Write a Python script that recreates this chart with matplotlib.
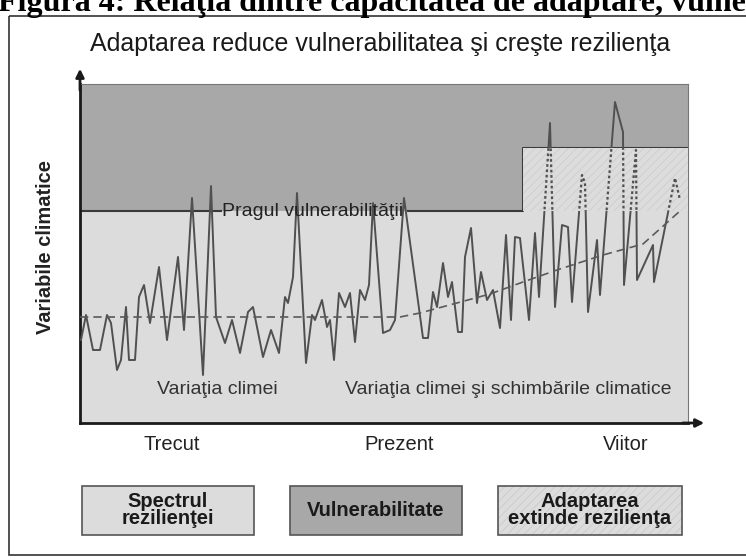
import matplotlib
matplotlib.use('Agg')
import matplotlib.pyplot as plt
from matplotlib.patches import Rectangle

# climate variability series (time units, value units)
clim_t = [1, 6, 13, 20, 27, 31, 37, 41, 46, 49, 55, 59, 64, 70, 79, 87, 98, 104,
          112, 123, 131, 136, 145, 152, 160, 168, 173, 183, 191, 199, 205, 208,
          213, 217, 226, 232, 235, 242, 247, 250, 254, 259, 265, 270, 275, 280,
          285, 289, 293, 303, 310, 315, 324, 343, 348, 353, 357, 363, 368, 372,
          378, 382, 385, 391, 397, 401, 407, 413, 420, 426, 431, 435, 440, 449,
          455, 459, 470, 475, 482, 488, 492, 502, 505, 508, 517, 520, 535, 543,
          544, 556, 557, 573, 574, 595, 600]
clim_v = [83, 108, 73, 73, 108, 100, 53, 63, 116, 63, 63, 126, 138, 100, 156, 83,
          166, 93, 225, 48, 237, 106, 80, 103, 70, 111, 116, 66, 93, 70, 126, 120,
          146, 230, 60, 108, 103, 123, 96, 103, 63, 130, 116, 130, 81, 133, 123,
          138, 220, 90, 93, 103, 225, 85, 85, 131, 116, 160, 126, 141, 91, 91,
          166, 195, 120, 151, 123, 133, 95, 188, 103, 186, 185, 103, 190, 126,
          300, 116, 198, 196, 121, 248, 240, 111, 183, 128, 321, 291, 138, 273,
          143, 178, 141, 245, 223]

# climate trend (dashed)
trend_t = [0, 320, 340, 410, 443, 477, 523, 563, 600]
trend_v = [106, 106, 110, 129, 141, 153, 168, 179, 212]

# vulnerability threshold (before / after adaptation)
thr_t = [0, 443, 443, 608]
thr_v = [212, 212, 275, 275]
x_max, y_max = 608, 339

time_labels = ['Trecut', 'Prezent', 'Viitor']
time_pos = [92, 319, 546]
box_labels = ['Spectrul\nrezilienţei', 'Vulnerabilitate', 'Adaptarea\nextinde rezilienţa']

plt.rcParams['font.family'] = ['Liberation Sans', 'DejaVu Sans']
plt.rcParams['hatch.linewidth'] = 0.6

light = '#dcdcdc'
dark = '#a8a8a8'
line_col = '#505050'

fig = plt.figure(figsize=(7.46, 5.6), dpi=100)

# background layer in pixel coordinates
bg = fig.add_axes([0, 0, 1, 1])
bg.set_xlim(0, 746)
bg.set_ylim(560, 0)
bg.axis('off')

bg.text(-2, 11, 'Figura 4: Relaţia dintre capacitatea de adaptare, vulnerabilitate şi rezilienţă',
        family=['Liberation Serif', 'DejaVu Serif'], fontweight='bold', fontsize=23,
        ha='left', va='baseline', clip_on=True)
bg.add_patch(Rectangle((9, 16), 800, 539, fill=False, ec='#333333', lw=1.2))
bg.text(380, 44, 'Adaptarea reduce vulnerabilitatea şi creşte rezilienţa',
        fontsize=18, ha='center', va='center', color='#1a1a1a')
bg.text(46, 247, 'Variabile climatice', rotation=90, fontsize=14.5, fontweight='bold',
        ha='center', va='center', color='#222222')

boxes = [(82, 254, light, None), (290, 462, dark, None), (498, 682, light, '////')]
for (x0, x1, fc, hatch), lab in zip(boxes, box_labels):
    bg.add_patch(Rectangle((x0, 486), x1 - x0, 49, fc=fc, ec='#cbcbcb', lw=0,
                           hatch=hatch))
    bg.add_patch(Rectangle((x0, 486), x1 - x0, 49, fill=False, ec='#555555', lw=1.2))
    bg.text((x0 + x1) / 2, 510, lab, fontsize=14.5, fontweight='bold', ha='center',
            va='center', linespacing=0.9, color='#1a1a1a')

# chart axes
ax = fig.add_axes([80 / 746, 137 / 560, 608 / 746, 339 / 560])
ax.set_xlim(0, x_max)
ax.set_ylim(0, y_max)
ax.set_facecolor(light)
ax.fill_between(thr_t, thr_v, y_max, color=dark, lw=0, zorder=1)

ax.plot(clim_t, clim_v, color=line_col, lw=1.4, zorder=3)

# adaptation band: covers the line, then the line is redrawn dotted inside it
band = Rectangle((thr_t[1], thr_v[1]), x_max - thr_t[1], thr_v[2] - thr_v[1],
                 fc=light, ec='#cdcdcd', hatch='////', lw=0, zorder=4)
ax.add_patch(band)
dots, = ax.plot(clim_t, clim_v, color=line_col, lw=1.6, ls=(0, (1.2, 1.2)), zorder=5)
dots.set_clip_path(band)

ax.plot(trend_t, trend_v, color='#5a5a5a', lw=1.2, ls=(0, (5, 3)), zorder=6)

# threshold line, broken where the label sits
ax.plot([0, 141], [212, 212], color='#3a3a3a', lw=1.5, zorder=2)
ax.plot([328] + thr_t[1:], [212] + thr_v[1:], color='#3a3a3a', lw=1.5, zorder=2)
ax.text(142, 212, 'Pragul vulnerabilităţii', fontsize=14, ha='left', va='center',
        color='#222222', zorder=7)

ax.text(77, 33, 'Variaţia climei', fontsize=14, ha='left', va='center', color='#333333')
ax.text(265, 33, 'Variaţia climei şi schimbările climatice', fontsize=14, ha='left',
        va='center', color='#333333')

for s in ['top', 'right']:
    ax.spines[s].set_color('#777777')
    ax.spines[s].set_linewidth(0.8)
for s in ['left', 'bottom']:
    ax.spines[s].set_color('#1a1a1a')
    ax.spines[s].set_linewidth(2)
ax.set_xticks([])
ax.set_yticks([])
ax.annotate('', xy=(0, 357), xytext=(0, 330), annotation_clip=False,
            arrowprops=dict(arrowstyle='-|>', color='#1a1a1a', lw=2, mutation_scale=12))
ax.annotate('', xy=(627, 0), xytext=(600, 0), annotation_clip=False,
            arrowprops=dict(arrowstyle='-|>', color='#1a1a1a', lw=2, mutation_scale=12))

for lab, pos in zip(time_labels, time_pos):
    ax.text(pos, -22, lab, fontsize=14.5, ha='center', va='center', color='#222222')

fig.savefig('out.png', dpi=100)
